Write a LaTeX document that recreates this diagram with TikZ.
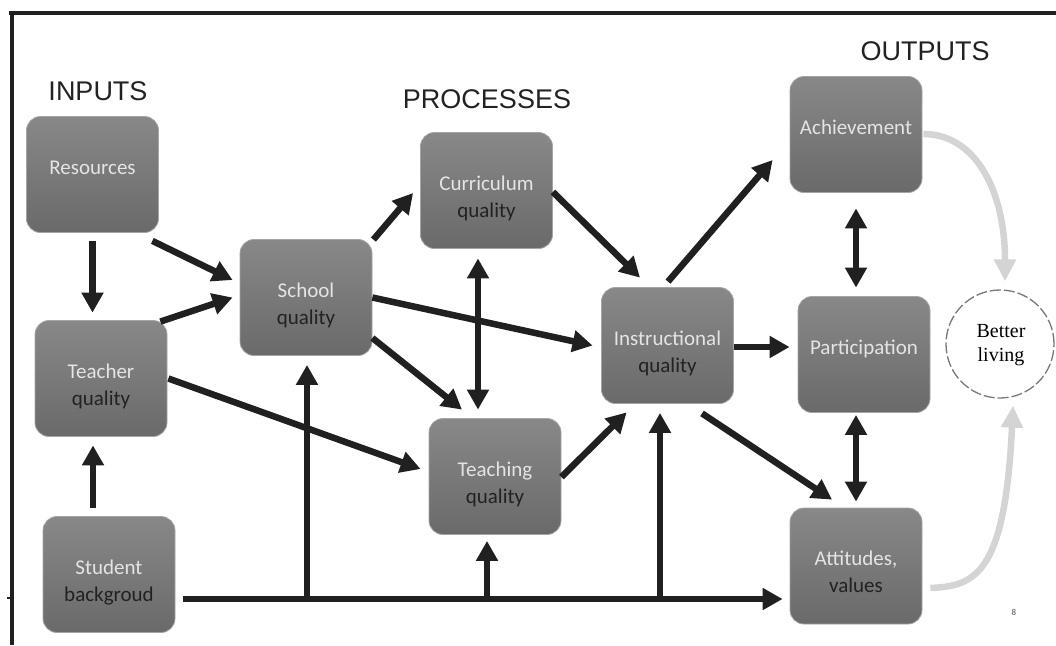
\documentclass[tikz,border=0pt]{standalone}
\usepackage{fontspec}
\setmainfont{Carlito}
\newfontfamily\headfont{Liberation Sans}
\newfontfamily\serifface{Liberation Serif}
\usetikzlibrary{arrows.meta,calc}
\definecolor{boxtop}{RGB}{136,136,136}
\definecolor{boxbot}{RGB}{106,106,106}
\definecolor{boxedge}{RGB}{165,165,165}
\definecolor{txtlight}{RGB}{228,228,228}
\definecolor{txtdark}{RGB}{34,34,34}
\definecolor{arrowblack}{RGB}{32,32,32}
\definecolor{arrowgray}{RGB}{212,212,212}
\definecolor{circgray}{RGB}{120,120,120}
\tikzset{
  box/.style={draw=boxedge, line width=0.8pt, rounded corners=14pt,
    top color=boxtop, bottom color=boxbot,
    minimum width=132pt, minimum height=116pt, inner sep=0pt},
  lineone/.style={anchor=base, inner sep=0pt, text=txtlight, font=\fontsize{21}{24}\selectfont},
  linetwo/.style={anchor=base, inner sep=0pt, text=txtdark, font=\fontsize{21}{24}\selectfont},
  head/.style={anchor=base, inner sep=0pt, text=txtdark, font=\headfont\fontsize{27}{30}\selectfont},
  arr/.style={line width=6.5pt, draw=arrowblack, -{Triangle[length=20pt,width=21pt]}},
  dbl/.style={line width=6.5pt, draw=arrowblack, {Triangle[length=20pt,width=21pt]}-{Triangle[length=20pt,width=21pt]}},
  garr/.style={line width=6.5pt, draw=arrowgray, -{Triangle[length=22pt,width=21pt]}},
}
\begin{document}
\begin{tikzpicture}[x=1pt,y=-1pt]
\useasboundingbox (0,0) rectangle (1056,645);
% frame
\draw[line width=4.5pt, draw=arrowblack] (9,13) -- (1056,13);
\draw[line width=3.5pt, draw=arrowblack] (12,11) -- (12,645);
\draw[line width=2pt, draw=arrowblack] (7,598) -- (12,598);
% headings
\node[head] (hin) at (98,100) {INPUTS};
\node[head] (hpr) at (487,108) {PROCESSES};
\node[head] (hout) at (925,60) {OUTPUTS};
% boxes
\node[box] (res) at (92.5,174.5) {};
\node[box] (tea) at (101,378.5) {};
\node[box] (stu) at (109,574.5) {};
\node[box] (sch) at (306,297.5) {};
\node[box] (cur) at (486.5,190.5) {};
\node[box] (tch) at (495,476.5) {};
\node[box] (ins) at (667.5,345.5) {};
\node[box] (ach) at (856,134.5) {};
\node[box] (par) at (864,354.5) {};
\node[box] (att) at (856,566) {};
% box texts
\node[lineone] (res1) at ($(res.north)+(0,58)$) {Resources};
\node[lineone] (tea1) at ($(tea.north)+(0,58)$) {Teacher};
\node[linetwo] (tea2) at ($(tea.north)+(0,85)$) {quality};
\node[lineone] (stu1) at ($(stu.north)+(0,58)$) {Student};
\node[linetwo] (stu2) at ($(stu.north)+(0,85)$) {backgroud};
\node[lineone] (sch1) at ($(sch.north)+(0,58)$) {School};
\node[linetwo] (sch2) at ($(sch.north)+(0,85)$) {quality};
\node[lineone] (cur1) at ($(cur.north)+(0,58)$) {Curriculum};
\node[linetwo] (cur2) at ($(cur.north)+(0,85)$) {quality};
\node[lineone] (tch1) at ($(tch.north)+(0,58)$) {Teaching};
\node[linetwo] (tch2) at ($(tch.north)+(0,85)$) {quality};
\node[lineone] (ins1) at ($(ins.north)+(0,58)$) {Instructional};
\node[linetwo] (ins2) at ($(ins.north)+(0,85)$) {quality};
\node[lineone] (ach1) at ($(ach.north)+(0,58)$) {Achievement};
\node[lineone] (par1) at ($(par.north)+(0,58)$) {Participation};
\node[lineone] (att1) at ($(att.north)+(0,58)$) {Attitudes,};
\node[linetwo] (att2) at ($(att.north)+(0,85)$) {values};
% better living
\node[draw=circgray, dash pattern=on 11pt off 3pt, line width=1.3pt, circle, minimum size=108pt, inner sep=0pt] (bl) at (1000,344) {};
\node[anchor=base, inner sep=0pt, font=\serifface\fontsize{20}{24}\selectfont] (bl1) at (1001,337) {Better};
\node[anchor=base, inner sep=0pt, font=\serifface\fontsize{20}{24}\selectfont] (bl2) at (1001,361) {living};
% slide number
\node[inner sep=0pt, text=gray, font=\bfseries\fontsize{9}{10}\selectfont] (pg) at (1014,612) {8};
% input arrows
\draw[arr] ($(res.south)+(0,8)$) -- ($(tea.north)+(-8.5,-7.5)$);
\draw[arr] ($(res.south east)+(-6.5,8)$) -- ($(sch.west)+(-7,-17.5)$);
\draw[arr] ($(tea.north east)+(-7,1.5)$) -- ($(sch.west)+(-7,0)$);
\draw[arr] ($(tea.east)+(1,0)$) -- ($(tch.west)+(-8,-7.5)$);
\draw[arr] ($(stu.north)+(-16,-8.5)$) -- ($(tea.south)+(-8,8.5)$);
% trunk from student background
\coordinate (t0) at ($(stu.east)+(8,24.5)$);
\coordinate (j1) at (307,599);
\coordinate (j2) at (487,599);
\coordinate (j3) at (660,599);
\draw[arr] (t0) -- ($(att.west)+(-7,33)$);
\draw[arr] (j1) -- ($(sch.south)+(1,9)$);
\draw[arr] (j2) -- ($(tch.south)+(-8,6)$);
\draw[arr] (j3) -- ($(ins.south)+(-7.5,9)$);
% process arrows
\draw[arr] ($(sch.north east)+(1,0.5)$) -- ($(cur.west)+(-7,2.5)$);
\draw[arr] ($(sch.east)+(0,0)$) -- ($(ins.west)+(-8.5,0)$);
\draw[arr] ($(sch.east)+(0,40.5)$) -- ($(tch.north)+(-33,-8.5)$);
\draw[dbl] ($(cur.south)+(-8.5,9.5)$) -- ($(tch.north)+(-17,-8.5)$);
\draw[arr] ($(cur.east)+(0,1.5)$) -- ($(ins.north)+(-27.5,-9.5)$);
\draw[arr] ($(tch.east)+(0,0.5)$) -- ($(ins.south west)+(25.5,8.5)$);
% output arrows
\draw[arr] ($(ins.north)+(0.5,-5.5)$) -- ($(ach.west)+(-17,25.5)$);
\draw[arr] ($(ins.east)+(0,1.5)$) -- ($(par.west)+(-8,-7.5)$);
\draw[arr] ($(ins.south)+(34.5,9.5)$) -- ($(att.north)+(-24,-8)$);
\draw[dbl] ($(ach.south)+(0,15.5)$) -- ($(par.north)+(-8,-8.5)$);
\draw[dbl] ($(par.south)+(-8,2)$) -- ($(att.north)+(0,-6)$);
% gray curved arrows to better living
\draw[garr] ($(ach.east)+(1,-0.5)$) .. controls (975,134) and (1005,190) .. ($(bl.north)+(5,-8)$);
\draw[garr] ($(att.east)+(8,22)$) .. controls (975,586) and (1005,575) .. ($(bl.south)+(13,7)$);
\end{tikzpicture}
\end{document}
